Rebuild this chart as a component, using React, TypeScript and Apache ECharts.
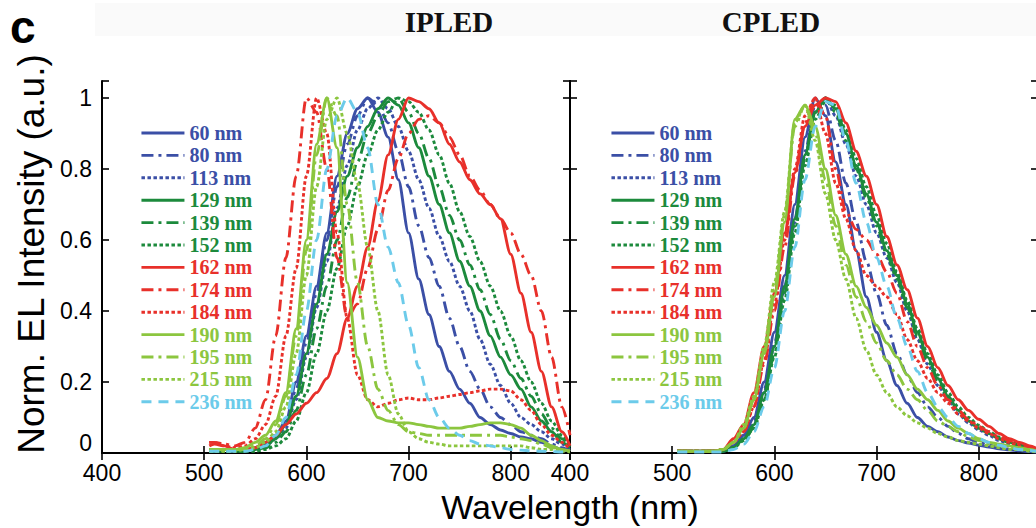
import React, { useEffect, useRef } from "react";
import * as echarts from "echarts";

// Wavelength grid (nm)
const WL = [505, 510, 520, 530, 540, 550, 560, 570, 580, 590, 600, 610, 620, 630, 640, 650, 660, 670, 680, 690, 700, 710, 720, 730, 740, 750, 760, 770, 780, 790, 800, 810, 820, 830, 840, 850, 858];

const NAMES = ["60 nm", "80 nm", "113 nm", "129 nm", "139 nm", "152 nm", "162 nm", "174 nm", "184 nm", "190 nm", "195 nm", "215 nm", "236 nm"];

const X_TICKS = [400, 500, 600, 700, 800];
const Y_TICKS = [0, 0.2, 0.4, 0.6, 0.8, 1];

// IPLED spectra
const ip60 = [0.01, 0.01, 0.01, 0.01, 0.01, 0.015, 0.03, 0.05, 0.09, 0.2, 0.33, 0.47, 0.62, 0.78, 0.9, 0.97, 1.0, 0.96, 0.89, 0.77, 0.62, 0.49, 0.39, 0.3, 0.23, 0.18, 0.14, 0.1, 0.08, 0.065, 0.055, 0.045, 0.04, 0.03, 0.02, 0.01, 0.005];
const ip80 = [0.01, 0.01, 0.01, 0.01, 0.01, 0.015, 0.025, 0.045, 0.08, 0.18, 0.31, 0.45, 0.6, 0.75, 0.87, 0.95, 1.0, 0.98, 0.93, 0.85, 0.75, 0.64, 0.55, 0.47, 0.38, 0.3, 0.23, 0.18, 0.13, 0.1, 0.08, 0.06, 0.05, 0.04, 0.025, 0.015, 0.005];
const ip113 = [0.01, 0.01, 0.01, 0.01, 0.01, 0.01, 0.02, 0.04, 0.07, 0.15, 0.27, 0.41, 0.54, 0.69, 0.81, 0.91, 0.97, 1.0, 0.97, 0.92, 0.85, 0.77, 0.69, 0.61, 0.54, 0.47, 0.4, 0.32, 0.25, 0.19, 0.14, 0.1, 0.08, 0.06, 0.04, 0.025, 0.01];
const ip129 = [0.01, 0.01, 0.01, 0.01, 0.01, 0.01, 0.02, 0.04, 0.08, 0.16, 0.28, 0.42, 0.56, 0.68, 0.78, 0.86, 0.92, 0.97, 1.0, 0.98, 0.93, 0.86, 0.78, 0.7, 0.62, 0.54, 0.47, 0.4, 0.33, 0.27, 0.22, 0.18, 0.13, 0.09, 0.06, 0.03, 0.015];
const ip139 = [0.005, 0.005, 0.005, 0.005, 0.005, 0.01, 0.015, 0.03, 0.06, 0.12, 0.22, 0.35, 0.47, 0.6, 0.72, 0.82, 0.9, 0.95, 0.99, 1.0, 0.96, 0.9, 0.83, 0.75, 0.67, 0.6, 0.53, 0.46, 0.39, 0.32, 0.26, 0.21, 0.16, 0.11, 0.07, 0.04, 0.02];
const ip152 = [0.005, 0.005, 0.005, 0.005, 0.005, 0.005, 0.01, 0.02, 0.04, 0.09, 0.17, 0.28, 0.4, 0.52, 0.64, 0.75, 0.84, 0.91, 0.96, 1.0, 0.99, 0.96, 0.91, 0.84, 0.76, 0.68, 0.61, 0.54, 0.47, 0.4, 0.33, 0.26, 0.2, 0.14, 0.09, 0.05, 0.02];
const ip162 = [0.02, 0.025, 0.02, 0.01, 0.01, 0.015, 0.03, 0.05, 0.08, 0.11, 0.14, 0.17, 0.21, 0.28, 0.38, 0.47, 0.58, 0.71, 0.84, 0.94, 1.0, 0.99, 0.97, 0.93, 0.87, 0.82, 0.77, 0.73, 0.7, 0.66, 0.56, 0.45, 0.34, 0.23, 0.13, 0.06, 0.02];
const ip174 = [0.03, 0.03, 0.025, 0.02, 0.03, 0.07, 0.15, 0.33, 0.55, 0.78, 1.0, 0.96, 0.8, 0.55, 0.38, 0.42, 0.52, 0.63, 0.74, 0.83, 0.9, 0.94, 0.95, 0.93, 0.89, 0.84, 0.78, 0.74, 0.7, 0.66, 0.62, 0.56, 0.5, 0.4, 0.27, 0.13, 0.05];
const ip184 = [0.03, 0.03, 0.02, 0.015, 0.02, 0.04, 0.08, 0.16, 0.33, 0.52, 0.78, 1.0, 0.9, 0.62, 0.38, 0.22, 0.15, 0.13, 0.14, 0.15, 0.155, 0.15, 0.15, 0.155, 0.16, 0.165, 0.17, 0.175, 0.18, 0.18, 0.175, 0.15, 0.12, 0.08, 0.05, 0.03, 0.01];
const ip190 = [0.01, 0.01, 0.01, 0.01, 0.015, 0.03, 0.05, 0.09, 0.17, 0.35, 0.6, 0.87, 1.0, 0.86, 0.48, 0.27, 0.15, 0.1, 0.09, 0.085, 0.085, 0.08, 0.075, 0.07, 0.07, 0.07, 0.075, 0.08, 0.085, 0.085, 0.08, 0.07, 0.05, 0.035, 0.02, 0.01, 0.005];
const ip195 = [0.01, 0.01, 0.01, 0.01, 0.01, 0.02, 0.04, 0.08, 0.16, 0.33, 0.57, 0.84, 1.0, 0.95, 0.7, 0.48, 0.3, 0.18, 0.12, 0.08, 0.06, 0.055, 0.05, 0.05, 0.05, 0.05, 0.05, 0.05, 0.05, 0.05, 0.045, 0.04, 0.035, 0.025, 0.015, 0.01, 0.005];
const ip215 = [0.005, 0.005, 0.005, 0.005, 0.01, 0.015, 0.03, 0.06, 0.13, 0.28, 0.5, 0.75, 0.94, 1.0, 0.9, 0.76, 0.58, 0.4, 0.22, 0.11, 0.06, 0.04, 0.03, 0.025, 0.02, 0.02, 0.02, 0.02, 0.02, 0.02, 0.02, 0.02, 0.015, 0.01, 0.01, 0.005, 0.003];
const ip236 = [0.005, 0.005, 0.005, 0.005, 0.005, 0.01, 0.02, 0.05, 0.1, 0.22, 0.4, 0.6, 0.8, 0.95, 1.0, 0.96, 0.86, 0.7, 0.58, 0.48, 0.36, 0.24, 0.15, 0.1, 0.07, 0.05, 0.035, 0.025, 0.02, 0.015, 0.01, 0.008, 0.006, 0.005, 0.004, 0.003, 0.002];

// CPLED spectra
const cp60 = [0.005, 0.005, 0.005, 0.005, 0.005, 0.005, 0.02, 0.05, 0.1, 0.2, 0.34, 0.5, 0.7, 0.89, 1.0, 0.95, 0.82, 0.7, 0.57, 0.44, 0.34, 0.26, 0.19, 0.14, 0.1, 0.075, 0.06, 0.045, 0.035, 0.028, 0.022, 0.017, 0.012, 0.009, 0.006, 0.004, 0.002];
const cp80 = [0.005, 0.005, 0.005, 0.005, 0.005, 0.005, 0.02, 0.04, 0.09, 0.18, 0.31, 0.47, 0.66, 0.85, 0.98, 0.98, 0.88, 0.76, 0.65, 0.54, 0.45, 0.36, 0.28, 0.22, 0.17, 0.13, 0.1, 0.075, 0.055, 0.04, 0.03, 0.022, 0.016, 0.011, 0.008, 0.005, 0.003];
const cp113 = [0.005, 0.005, 0.005, 0.005, 0.005, 0.005, 0.015, 0.04, 0.08, 0.17, 0.3, 0.46, 0.65, 0.84, 0.96, 1.0, 0.95, 0.87, 0.78, 0.7, 0.62, 0.55, 0.48, 0.4, 0.32, 0.25, 0.19, 0.15, 0.11, 0.085, 0.065, 0.05, 0.035, 0.025, 0.02, 0.012, 0.008];
const cp129 = [0.005, 0.005, 0.005, 0.005, 0.005, 0.005, 0.015, 0.04, 0.08, 0.17, 0.3, 0.47, 0.66, 0.84, 0.96, 1.0, 0.97, 0.9, 0.81, 0.73, 0.65, 0.57, 0.5, 0.42, 0.34, 0.27, 0.21, 0.16, 0.12, 0.09, 0.07, 0.055, 0.04, 0.03, 0.022, 0.015, 0.01];
const cp139 = [0.005, 0.005, 0.005, 0.005, 0.005, 0.005, 0.015, 0.035, 0.07, 0.15, 0.28, 0.45, 0.64, 0.83, 0.96, 1.0, 0.96, 0.88, 0.8, 0.72, 0.64, 0.56, 0.49, 0.41, 0.33, 0.26, 0.2, 0.155, 0.12, 0.09, 0.07, 0.055, 0.04, 0.03, 0.02, 0.014, 0.01];
const cp152 = [0.005, 0.005, 0.005, 0.005, 0.005, 0.005, 0.015, 0.035, 0.07, 0.15, 0.27, 0.43, 0.62, 0.81, 0.94, 0.99, 0.98, 0.91, 0.83, 0.75, 0.67, 0.59, 0.51, 0.43, 0.35, 0.28, 0.22, 0.17, 0.13, 0.1, 0.078, 0.06, 0.045, 0.033, 0.024, 0.016, 0.01];
const cp162 = [0.005, 0.005, 0.005, 0.005, 0.005, 0.01, 0.04, 0.08, 0.17, 0.3, 0.45, 0.62, 0.79, 0.92, 0.98, 1.0, 0.99, 0.93, 0.85, 0.78, 0.7, 0.61, 0.53, 0.46, 0.38, 0.3, 0.24, 0.19, 0.15, 0.12, 0.095, 0.075, 0.055, 0.04, 0.03, 0.02, 0.01];
const cp174 = [0.005, 0.005, 0.005, 0.005, 0.005, 0.01, 0.03, 0.06, 0.13, 0.25, 0.4, 0.58, 0.78, 0.93, 1.0, 0.95, 0.8, 0.68, 0.63, 0.6, 0.56, 0.51, 0.45, 0.37, 0.3, 0.24, 0.19, 0.15, 0.12, 0.095, 0.075, 0.06, 0.045, 0.035, 0.025, 0.015, 0.01];
const cp184 = [0.005, 0.005, 0.005, 0.005, 0.005, 0.01, 0.03, 0.06, 0.13, 0.26, 0.42, 0.6, 0.8, 0.95, 1.0, 0.9, 0.76, 0.66, 0.57, 0.5, 0.47, 0.44, 0.39, 0.32, 0.26, 0.21, 0.17, 0.14, 0.11, 0.09, 0.07, 0.055, 0.04, 0.03, 0.02, 0.015, 0.01];
const cp190 = [0.005, 0.005, 0.005, 0.005, 0.005, 0.01, 0.03, 0.07, 0.15, 0.28, 0.44, 0.65, 0.94, 0.98, 0.92, 0.8, 0.67, 0.56, 0.47, 0.41, 0.36, 0.31, 0.27, 0.22, 0.18, 0.15, 0.12, 0.09, 0.07, 0.055, 0.04, 0.03, 0.025, 0.02, 0.015, 0.01, 0.005];
const cp195 = [0.005, 0.005, 0.005, 0.005, 0.005, 0.01, 0.03, 0.07, 0.15, 0.29, 0.46, 0.67, 0.92, 0.98, 0.9, 0.77, 0.64, 0.53, 0.44, 0.37, 0.31, 0.26, 0.22, 0.18, 0.15, 0.12, 0.09, 0.075, 0.06, 0.045, 0.035, 0.025, 0.02, 0.015, 0.01, 0.01, 0.005];
const cp215 = [0.005, 0.005, 0.005, 0.005, 0.005, 0.01, 0.03, 0.08, 0.16, 0.3, 0.48, 0.68, 0.93, 0.98, 0.88, 0.73, 0.6, 0.49, 0.38, 0.29, 0.22, 0.17, 0.13, 0.105, 0.085, 0.07, 0.055, 0.045, 0.035, 0.03, 0.025, 0.02, 0.015, 0.01, 0.01, 0.005, 0.003];
const cp236 = [0.003, 0.003, 0.003, 0.003, 0.003, 0.003, 0.01, 0.025, 0.06, 0.13, 0.24, 0.4, 0.58, 0.77, 0.92, 0.99, 0.98, 0.88, 0.76, 0.65, 0.55, 0.47, 0.38, 0.3, 0.23, 0.17, 0.13, 0.1, 0.075, 0.055, 0.04, 0.03, 0.022, 0.015, 0.01, 0.007, 0.004];

const IPLED = [ip60, ip80, ip113, ip129, ip139, ip152, ip162, ip174, ip184, ip190, ip195, ip215, ip236];
const CPLED = [cp60, cp80, cp113, cp129, cp139, cp152, cp162, cp174, cp184, cp190, cp195, cp215, cp236];

const BLUE = "#3b4fa6";
const GREEN = "#1c8a3c";
const RED = "#e8302a";
const LGREEN = "#8cc63f";
const LBLUE = "#6ccbea";
const COLORS = [BLUE, BLUE, BLUE, GREEN, GREEN, GREEN, RED, RED, RED, LGREEN, LGREEN, LGREEN, LBLUE];

const DASHDOT = [12, 5, 3, 5];
const DOTTED = [3.5, 2.5];
const DASHED = [10, 7];
const STYLES: any[] = ["solid", DASHDOT, DOTTED, "solid", DASHDOT, DOTTED, "solid", DASHDOT, DOTTED, "solid", DASHDOT, DOTTED, DASHED];

const SANS = "'Liberation Sans', Arial, sans-serif";
const SERIF = "'Liberation Serif', 'Times New Roman', serif";

export default function App() {
  const ref = useRef<HTMLDivElement>(null);

  useEffect(() => {
    if (!ref.current) return;
    const chart = echarts.init(ref.current, undefined, { renderer: "svg" });

    const X_MIN = 400;
    const X_MAX = 858;
    const Y_MIN = 0;
    const Y_MAX = 1.048;

    const grids = [
      { left: 102, top: 81, width: 468, height: 372, outerBoundsMode: "none" },
      { left: 570, top: 81, width: 468, height: 372, outerBoundsMode: "none" },
    ];

    const axisLine = { show: true, lineStyle: { color: "#000", width: 2 } };
    const tick = { show: true, inside: true, length: 7, lineStyle: { color: "#000", width: 1.6 } };

    const xFmt = (v: number) => (X_TICKS.indexOf(Math.round(v)) >= 0 && Math.abs(v - Math.round(v)) < 1e-6 ? String(Math.round(v)) : "");
    const yFmt = (v: number) => {
      if (Math.abs(v) < 1e-6) return "{z|0}";
      const r = Math.round(v * 10) / 10;
      return Y_TICKS.some((t) => Math.abs(t - v) < 1e-6) ? String(r) : "";
    };

    const xAxes: any[] = [];
    const yAxes: any[] = [];
    for (let g = 0; g < 2; g++) {
      xAxes.push({
        type: "value", gridIndex: g, position: "bottom", min: X_MIN, max: X_MAX, interval: 100,
        axisLine, axisTick: tick, splitLine: { show: false },
        axisLabel: { show: true, formatter: xFmt, color: "#000", fontSize: 23, fontFamily: SANS, margin: 8 },
      });
      xAxes.push({
        type: "value", gridIndex: g, position: "top", min: X_MIN, max: X_MAX, interval: 100,
        axisLine, axisTick: tick, splitLine: { show: false }, axisLabel: { show: false },
      });
      yAxes.push({
        type: "value", gridIndex: g, position: "left", min: Y_MIN, max: Y_MAX, interval: 0.2,
        axisLine, axisTick: tick, splitLine: { show: false },
        axisLabel: {
          show: g === 0, formatter: yFmt, color: "#000", fontSize: 23, fontFamily: SANS, margin: 10,
          rich: { z: { color: "#000", fontSize: 23, fontFamily: SANS, padding: [0, 0, 20, 0] } },
        },
      });
      yAxes.push({
        type: "value", gridIndex: g, position: "right", min: Y_MIN, max: Y_MAX, interval: 0.2,
        axisLine, axisTick: tick, splitLine: { show: false }, axisLabel: { show: false },
      });
    }

    const series: any[] = [];
    [IPLED, CPLED].forEach((panel, p) => {
      panel.forEach((vals, i) => {
        series.push({
          type: "line",
          name: NAMES[i],
          xAxisIndex: p * 2,
          yAxisIndex: p * 2,
          data: WL.map((w, k) => [w, vals[k]]),
          showSymbol: false,
          symbol: "none",
          smooth: 0.3,
          smoothMonotone: "x",
          lineStyle: { color: COLORS[i], width: 2.9, type: STYLES[i] },
          itemStyle: { color: COLORS[i] },
          emphasis: { disabled: true },
        });
      });
    });

    const legendData = NAMES.map((n, i) => ({ name: n, textStyle: { color: COLORS[i] } }));
    const legendBase = {
      orient: "vertical",
      top: 123,
      padding: 0,
      itemWidth: 43,
      itemHeight: 1,
      itemGap: 2.4,
      selectedMode: false,
      itemStyle: { color: "rgba(0,0,0,0)", borderColor: "rgba(0,0,0,0)", borderWidth: 0, opacity: 0 },
      lineStyle: { width: 2.9 },
      textStyle: { fontFamily: SERIF, fontWeight: "bold", fontSize: 20, lineHeight: 20 },
      data: legendData,
    };

    chart.setOption({
      animation: false,
      backgroundColor: "#fff",
      grid: grids,
      xAxis: xAxes,
      yAxis: yAxes,
      legend: [
        { ...legendBase, left: 140 },
        { ...legendBase, left: 610 },
      ],
      series,
      graphic: [
        { type: "rect", z: -10, shape: { x: 95, y: 3, width: 941, height: 33 }, style: { fill: "#fafafa" } },
        { type: "text", x: 10, y: 27, style: { text: "c", fontSize: 46, fontWeight: "bold", fontFamily: SANS, fill: "#000", align: "left", verticalAlign: "middle" } },
        { type: "text", x: 449, y: 22, style: { text: "IPLED", fontSize: 29, fontWeight: "bold", fontFamily: SERIF, fill: "#111", align: "center", verticalAlign: "middle" } },
        { type: "text", x: 771, y: 22, style: { text: "CPLED", fontSize: 29, fontWeight: "bold", fontFamily: SERIF, fill: "#111", align: "center", verticalAlign: "middle" } },
        { type: "text", x: 31, y: 254, rotation: Math.PI / 2, style: { text: "Norm. EL Intensity (a.u.)", fontSize: 37, fontFamily: SANS, fill: "#000", align: "center", verticalAlign: "middle" } },
        { type: "text", x: 570, y: 507, style: { text: "Wavelength (nm)", fontSize: 34, fontFamily: SANS, fill: "#000", align: "center", verticalAlign: "middle" } },
      ],
    });

    return () => chart.dispose();
  }, []);

  return <div ref={ref} style={{ position: "absolute", left: 0, top: 0, width: 1036, height: 528 }} />;
}
